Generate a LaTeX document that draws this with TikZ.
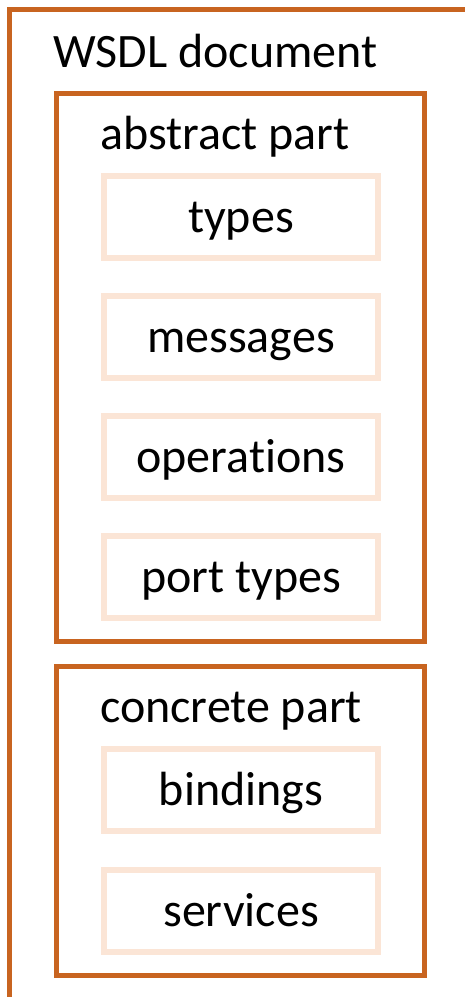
\documentclass[tikz,border=0pt]{standalone}
\usepackage{fontspec}
\setmainfont{Carlito}[Ligatures={NoCommon,NoRare}]
\definecolor{frameorange}{RGB}{200,100,32}
\definecolor{itempeach}{RGB}{251,229,214}
\begin{document}
\begin{tikzpicture}[x=1pt,y=-1pt,
  partbox/.style={draw=frameorange,line width=5pt,inner sep=0pt,fill=none},
  itembox/.style={draw=itempeach,line width=6pt,inner sep=0pt,
    minimum width=274pt,minimum height=82pt,
    text height=40pt,text depth=9pt,
    font=\fontsize{48}{52}\selectfont},
  caption/.style={anchor=base west,inner sep=0pt,
    font=\fontsize{48}{52}\selectfont}]
\useasboundingbox (0,0) rectangle (465,997);
\begin{scope}
\clip (0,0) rectangle (465,997);
% outer document frame, open to the right and bottom
\draw[frameorange,line width=5pt] (9.5,1100) -- (9.5,9.5) -- (600,9.5);
\end{scope}
\node[caption] (doclabel) at (53,67) {WSDL document};

% abstract part
\node[partbox,minimum width=368pt,minimum height=548pt] (abstract) at (240.5,367) {};
\node[caption] (abstractlabel) at (100,149) {abstract part};
\node[itembox] (types) at (241,217) {types};
\node[itembox] (messages) at (241,336.5) {messages};
\node[itembox] (operations) at (241,456.5) {operations};
\node[itembox] (porttypes) at (241,576.5) {port types};

% concrete part
\node[partbox,minimum width=368pt,minimum height=309.5pt] (concrete) at (240.5,820.75) {};
\node[caption] (concretelabel) at (100,722) {concrete part};
\node[itembox] (bindings) at (241,790) {bindings};
\node[itembox] (services) at (241,911) {services};
\end{tikzpicture}
\end{document}
